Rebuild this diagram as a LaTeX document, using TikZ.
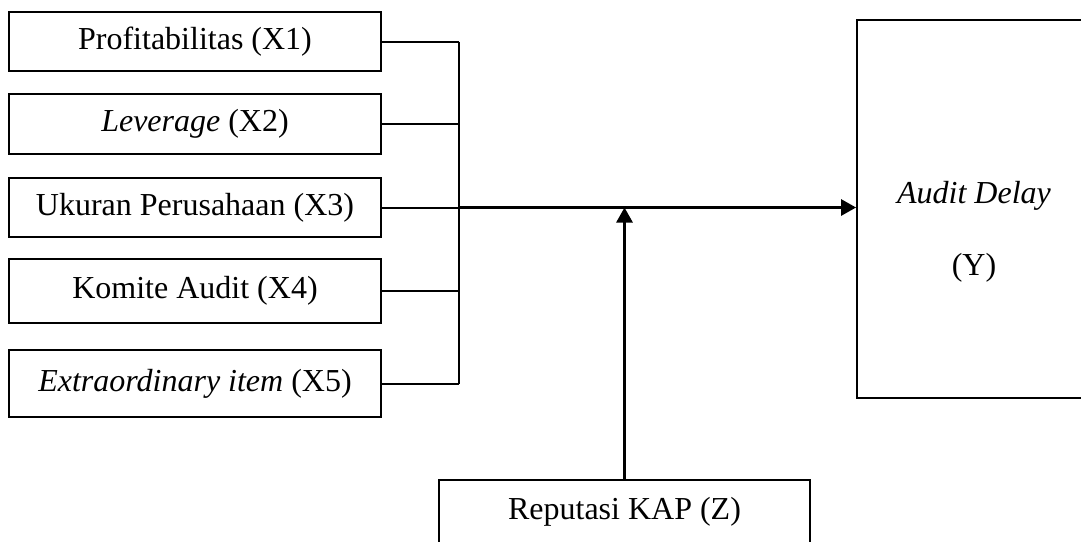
\documentclass[tikz,border=0pt]{standalone}
\usepackage{fontspec}
\setmainfont{Liberation Serif}
\usetikzlibrary{arrows.meta}

\begin{document}
\begin{tikzpicture}[x=0.5pt, y=-0.5pt, font=\fontsize{16}{19}\selectfont,
  var/.style={draw, line width=0.9pt, minimum width=186pt, minimum height=30pt, inner sep=0pt},
  link/.style={line width=1pt},
  arr/.style={line width=1.4pt, -{Triangle[length=7.5pt,width=8pt]}}]

\useasboundingbox (0,0) rectangle (1081,541);
\clip (0,0) rectangle (1081,541);

% variabel independen
\node[var, minimum height=29.5pt] (x1) at (195,41.5) {Profitabilitas (X1)};
\node[var] (x2) at (195,124) {\textit{Leverage} (X2)};
\node[var, minimum height=29.5pt] (x3) at (195,207.5) {Ukuran Perusahaan (X3)};
\node[var, minimum height=32pt] (x4) at (195,291) {Komite Audit (X4)};
\node[var, minimum height=33.5pt] (x5) at (195,383.5) {\textit{Extraordinary item} (X5)};

% variabel dependen dan moderasi
\node[var, minimum width=120pt, minimum height=189pt] (y) at (977,209) {};
\node[align=center] (ylab) at (974,232) {\textit{Audit Delay}\\[17pt](Y)};
\node[var, minimum width=185.5pt, minimum height=32pt] (z) at (624.5,512) {Reputasi KAP (Z)};

\coordinate (bus) at (459,0);

\foreach \v in {x1,x2,x3,x4,x5}
\draw[link] (\v.east) -- (bus |- \v.east);
\draw[link] (bus |- x1.east) -- (bus |- x5.east);

\draw[arr] (bus |- x3.east) -- (x3.east -| y.west);
\draw[arr] (z.north) -- (z.north |- x3.east);

\end{tikzpicture}
\end{document}
